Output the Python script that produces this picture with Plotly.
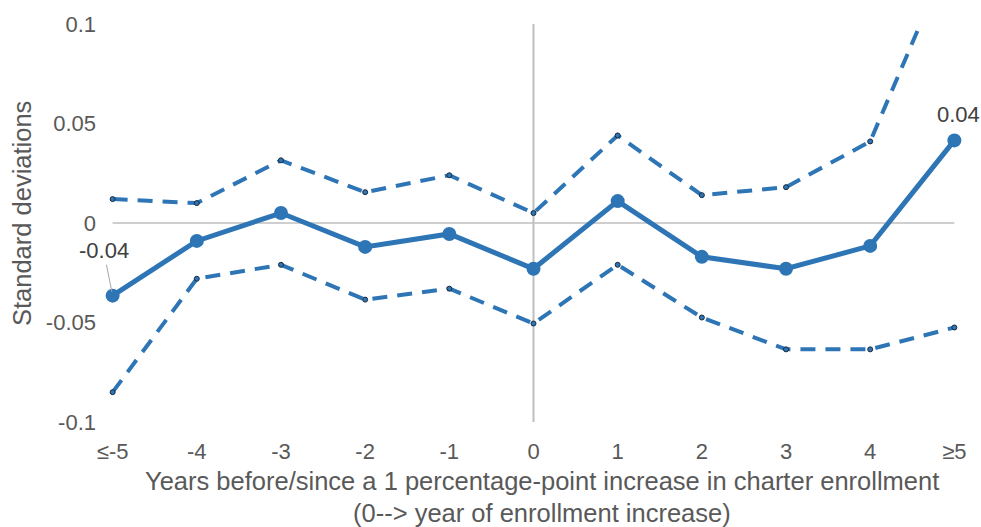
import plotly.graph_objects as go

# Event-study estimates with confidence bounds (standard deviations)
categories = ["≤-5", "-4", "-3", "-2", "-1", "0", "1", "2", "3", "4", "≥5"]
estimate = [-0.0365, -0.009, 0.005, -0.012, -0.0055, -0.023, 0.011, -0.017, -0.023, -0.0115, 0.0415]
upper_bound = [0.012, 0.010, 0.0315, 0.0155, 0.024, 0.005, 0.044, 0.014, 0.018, 0.041, 0.14]
lower_bound = [-0.085, -0.028, -0.021, -0.0385, -0.033, -0.0505, -0.021, -0.0475, -0.0635, -0.0635, -0.0525]
y_tickvals = [-0.1, -0.05, 0, 0.05, 0.1]
y_ticktext = ["-0.1", "-0.05", "0", "0.05", "0.1"]

BLUE = "#2E75B6"
FONT = "Liberation Sans, Arial, sans-serif"
x = list(range(len(categories)))

fig = go.Figure()

for bound in (upper_bound, lower_bound):
    fig.add_trace(go.Scatter(
        x=x, y=bound, mode="lines+markers",
        line=dict(color=BLUE, width=4, dash="15px,10px"),
        marker=dict(size=5, color=BLUE, line=dict(color="#1a2a3a", width=1)),
        hoverinfo="skip", showlegend=False,
    ))

fig.add_trace(go.Scatter(
    x=x, y=estimate, mode="lines+markers",
    line=dict(color=BLUE, width=5),
    marker=dict(size=14, color=BLUE),
    showlegend=False,
))

# Zero reference line across the categories and the event-year divider
fig.add_shape(type="line", x0=0, x1=len(categories) - 1, y0=0, y1=0,
              line=dict(color="#bfbfbf", width=1.5), layer="below")
fig.add_shape(type="line", x0=5, x1=5, y0=-0.1, y1=0.1,
              line=dict(color="#bfbfbf", width=2), layer="below")

# Value labels on the first and last estimates
fig.add_annotation(x=0, y=estimate[0], text=f"{estimate[0]:.2f}",
                   showarrow=True, arrowhead=0, arrowwidth=1, arrowcolor="#a6a6a6",
                   ax=-9, ay=-45, standoff=4,
                   font=dict(family=FONT, size=22, color="#404040"))
fig.add_annotation(x=10, y=estimate[-1], text=f"{estimate[-1]:.2f}",
                   showarrow=False, xshift=4, yshift=26,
                   font=dict(family=FONT, size=22, color="#404040"))

# Axis titles
title_font = dict(family=FONT, size=25.5, color="#595959")
fig.add_annotation(xref="paper", yref="paper", x=(542 - 100) / 867, y=(422 - 481) / 400,
                   xanchor="center", yanchor="middle",
                   text="Years before/since a 1 percentage-point increase in charter enrollment",
                   showarrow=False, font=title_font)
fig.add_annotation(xref="paper", yref="paper", x=(542 - 100) / 867, y=(422 - 513) / 400,
                   xanchor="center", yanchor="middle",
                   text="(0--> year of enrollment increase)",
                   showarrow=False, font=title_font)
fig.add_annotation(xref="paper", yref="paper", x=(22 - 100) / 867, y=(422 - 213) / 400,
                   xanchor="center", yanchor="middle",
                   text="Standard deviations", textangle=-90,
                   showarrow=False, font=title_font)

fig.update_xaxes(range=[-0.15, 10.15], tickvals=x, ticktext=categories,
                 showgrid=False, zeroline=False, showline=False, ticks="",
                 ticklabelstandoff=14,
                 tickfont=dict(family=FONT, size=22, color="#595959"))
fig.update_yaxes(range=[-0.1, 0.1], tickvals=y_tickvals, ticktext=y_ticktext,
                 showgrid=False, zeroline=False, showline=False, ticks="",
                 ticklabelstandoff=3,
                 tickfont=dict(family=FONT, size=22, color="#595959"))

fig.update_layout(
    width=981, height=527,
    margin=dict(l=100, r=14, t=22, b=105),
    plot_bgcolor="white", paper_bgcolor="white",
    font=dict(family=FONT),
)

fig.write_html("out.html")
